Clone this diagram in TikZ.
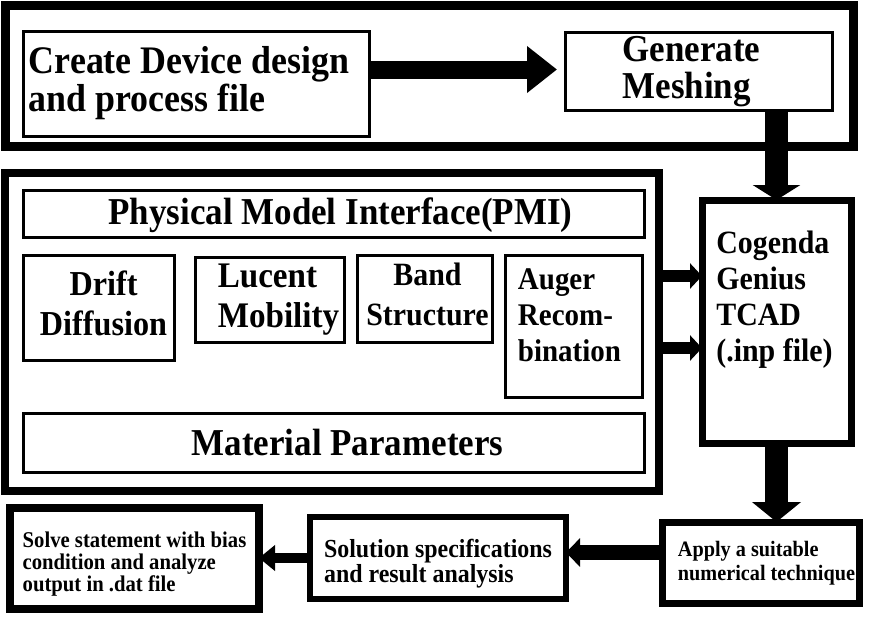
\documentclass[tikz,border=0pt]{standalone}
\usepackage{fontspec}
\setmainfont{Liberation Serif}[FakeStretch=0.92]
\usetikzlibrary{arrows.meta,calc}
\newcommand\myfs[2]{\fontsize{#1}{#2}\selectfont}
\tikzset{
  boxframe/.style={draw=black, fill=white, inner sep=0pt, outer sep=0pt, anchor=north west, line width=#1},
  lbl/.style={inner sep=0pt, text=black, align=center},
  lbll/.style={inner sep=0pt, text=black, align=left},
  fat/.style n args={3}{draw=black, line width=#1, -{Triangle[length=#2,width=#3]}},
}
\begin{document}
\begin{tikzpicture}[x=1pt,y=-1pt]
\useasboundingbox[fill=white] (0,0) rectangle (869,619);

% frames and boxes (outer corner at given point)
\node[boxframe=9pt, minimum width=848pt, minimum height=141pt] (topframe) at (5,5) {};
\node[boxframe=3pt, minimum width=346pt, minimum height=105pt] (create) at (23,31) {};
\node[boxframe=3pt, minimum width=267pt, minimum height=78pt] (genmesh) at (565,32) {};

\node[boxframe=8pt, minimum width=654pt, minimum height=318pt] (pmiframe) at (5,173) {};
\node[boxframe=3pt, minimum width=621pt, minimum height=47pt] (pmi) at (23,190) {};
\node[boxframe=3pt, minimum width=151pt, minimum height=105pt] (drift) at (23,255) {};
\node[boxframe=3pt, minimum width=149pt, minimum height=85pt] (lucent) at (195,257) {};
\node[boxframe=3pt, minimum width=135pt, minimum height=87pt] (band) at (357,255) {};
\node[boxframe=3pt, minimum width=137pt, minimum height=142pt] (auger) at (505,255) {};
\node[boxframe=3pt, minimum width=621pt, minimum height=59pt] (material) at (23,413) {};

\node[boxframe=7pt, minimum width=149pt, minimum height=243pt] (cogenda) at (702,200) {};
\node[boxframe=7pt, minimum width=197pt, minimum height=81pt] (apply) at (662,522) {};
\node[boxframe=6pt, minimum width=256pt, minimum height=82pt] (solution) at (310,517) {};
\node[boxframe=8pt, minimum width=249pt, minimum height=101pt] (solve) at (10,508) {};

% texts
\node[lbll, font={\bfseries\myfs{39}{38}}] (tcreate) at ($(create.center)+(-7,0)$) {Create Device design\\and process file};
\node[lbll, font={\bfseries\myfs{38}{37}}] (tgen) at ($(genmesh.center)+(-7,1)$) {Generate\\Meshing};
\node[lbl, font={\bfseries\myfs{38}{40}}] (tpmi) at ($(pmi.center)+(7,2)$) {Physical Model Interface(PMI)};
\node[lbl, font={\bfseries\myfs{35}{40}}] (tdrift) at ($(drift.center)+(5,-4)$) {Drift\\Diffusion};
\node[lbll, font={\bfseries\myfs{36}{40}}] (tlucent) at ($(lucent.center)+(9,0)$) {Lucent\\Mobility};
\node[lbl, font={\bfseries\myfs{32.5}{40}}] (tband) at ($(band.center)+(3,-4)$) {Band\\Structure};
\node[lbll, font={\bfseries\myfs{31.5}{36}}] (tauger) at ($(auger.center)+(-4,-11)$) {Auger\\Recom-\\bination};
\node[lbl, font={\bfseries\myfs{38}{40}}] (tmat) at ($(material.center)+(14,0)$) {Material Parameters};
\node[lbll, font={\bfseries\myfs{32.5}{36}}] (tcog) at ($(cogenda.center)+(-2,-22)$) {Cogenda\\Genius\\TCAD\\(.inp file)};
\node[lbll, font={\bfseries\myfs{22}{24}}] (tapply) at ($(apply.center)+(6,1)$) {Apply a suitable\\numerical technique};
\node[lbll, font={\bfseries\myfs{26}{25}}] (tsol) at ($(solution.center)+(0,6)$) {Solution specifications\\and result analysis};
\node[lbll, font={\bfseries\myfs{22.5}{22}}] (tsolve) at ($(solve.center)+(0,6)$) {Solve statement with bias\\condition and analyze\\output in .dat file};

% connectors
\coordinate (a1) at ([yshift=14pt]create.east);
\draw[fat={18pt}{30pt}{45pt}] (a1) -- ($(a1 -| genmesh.west)+(-8,0)$);
\draw[fat={23pt}{15pt}{47pt}] (genmesh.south -| cogenda.north) -- (cogenda.north);
\coordinate (b1) at ([yshift=56pt]pmiframe.east);
\coordinate (b2) at ([yshift=-16pt]pmiframe.east);
\draw[fat={12pt}{12pt}{25pt}] (b1) -- (b1 -| cogenda.west);
\draw[fat={12pt}{12pt}{25pt}] (b2) -- (b2 -| cogenda.west);
\draw[fat={23pt}{20pt}{48pt}] (cogenda.south) -- (cogenda.south |- apply.north);
\coordinate (c1) at ([yshift=10pt]apply.west);
\draw[fat={15pt}{14pt}{28pt}] (c1) -- (c1 -| solution.east);
\draw[fat={10pt}{16pt}{25pt}] (solution.west) -- (solution.west -| solve.east);
\end{tikzpicture}
\end{document}
